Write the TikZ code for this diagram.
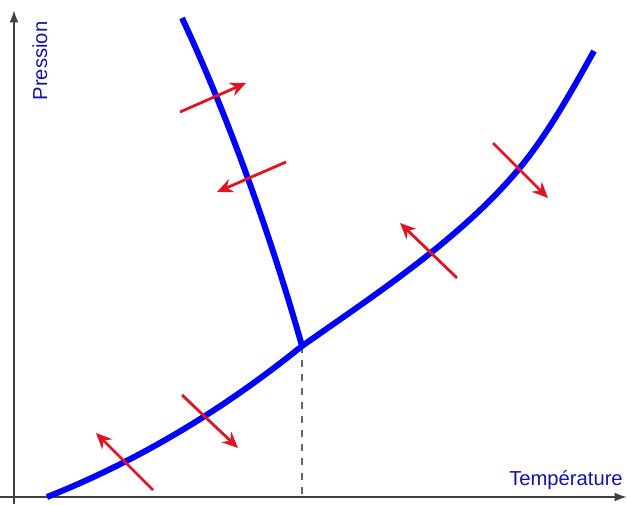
\documentclass[tikz,border=0pt]{standalone}
\usepackage{fontspec}
\setmainfont{Liberation Sans}
\usepackage{xcolor}
\usetikzlibrary{arrows.meta}
\definecolor{labelblue}{RGB}{20,20,160}
\definecolor{arrowred}{RGB}{225,20,35}

\begin{document}
\begin{tikzpicture}[x=0.02cm, y=0.02cm, >=Stealth,
    axis/.style={line width=1.1pt, draw=black!75, -{Latex[length=7pt, width=5pt]}},
    phaseline/.style={line width=3.4pt, draw=blue},
    shiftarrow/.style={line width=1.6pt, draw=arrowred, -{Stealth[length=9pt, width=8pt]}},
    axislabel/.style={text=labelblue, font=\fontsize{11.5}{14}\selectfont, inner sep=0pt}]
    \useasboundingbox (0,0) rectangle (628,504);
    % axes
    \coordinate (O) at (14,7);
    \coordinate (xend) at (627,7);
    \coordinate (yend) at (14,494);
    \draw[axis] (0,7) -- (xend);
    \draw[axis] (14,0) -- (yend);
    \node[axislabel, rotate=90] (pression) at (40,443) {Pression};
    \node[axislabel] (temperature) at (566,24) {Température};
    % triple point and curves
    \coordinate (T) at (302,158);
    \coordinate (sub0) at (47,7);
    \coordinate (vap1) at (518,334);
    \coordinate (vap2) at (594,453);
    \coordinate (fus1) at (182,486);
    \draw[dashed, line width=0.7pt, draw=black!60, dash pattern=on 4pt off 4pt] (T) -- (T |- O);
    \draw[phaseline] (sub0) .. controls (140,44) and (224,95) .. (T);
    \draw[phaseline] (T) .. controls (376,210) and (460,265) .. (vap1)
                         .. controls (548,370) and (571,412) .. (vap2);
    \draw[phaseline] (T) .. controls (272,264) and (229,386) .. (fus1);
    % displacement arrows
    \draw[shiftarrow] (180,392) -- (246,421);
    \draw[shiftarrow] (286,342) -- (217,312);
    \draw[shiftarrow] (493,361) -- (548,306);
    \draw[shiftarrow] (457,226) -- (400,281);
    \draw[shiftarrow] (182,109) -- (238,56);
    \draw[shiftarrow] (153,14) -- (96,71);
\end{tikzpicture}
\end{document}
